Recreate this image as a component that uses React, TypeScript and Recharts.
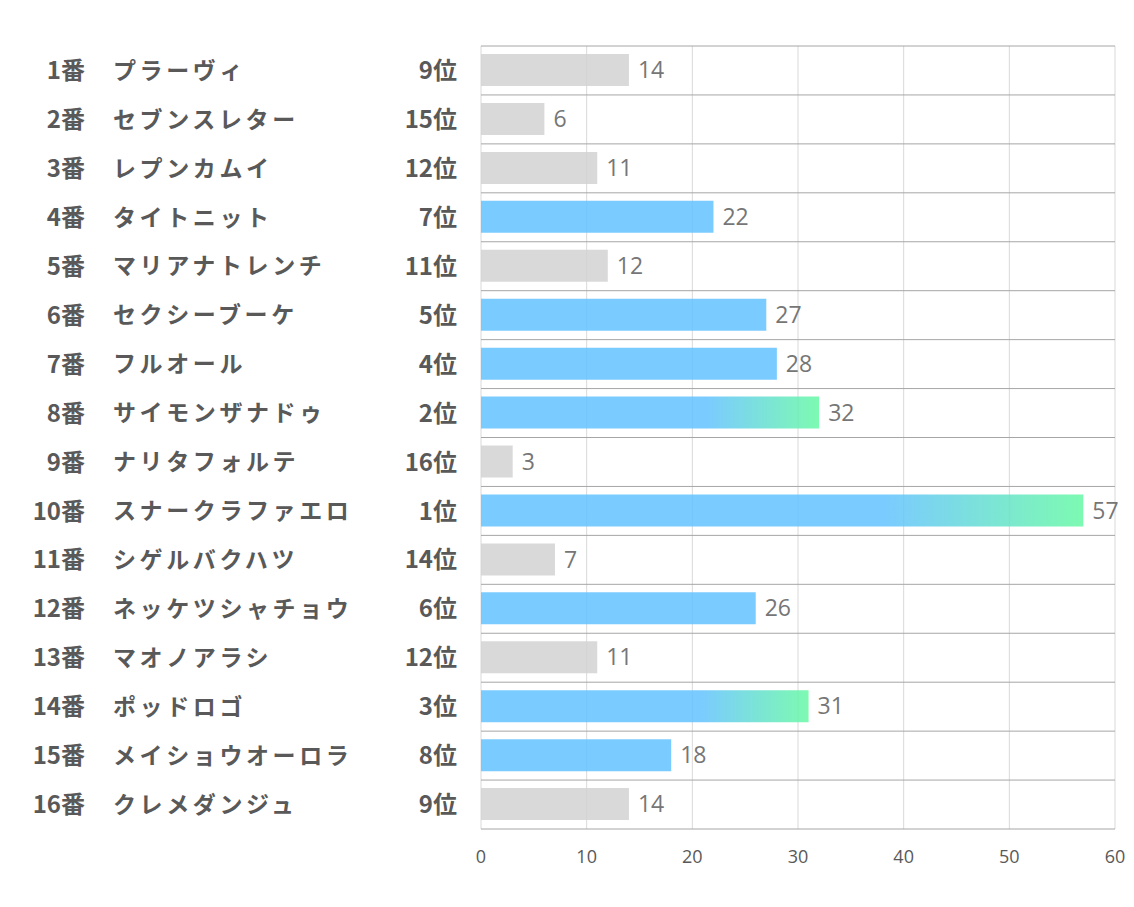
import React from 'react';
import { BarChart, Bar, XAxis, YAxis, CartesianGrid, Cell, LabelList } from 'recharts';

const horseNumbers = ['1番', '2番', '3番', '4番', '5番', '6番', '7番', '8番', '9番', '10番', '11番', '12番', '13番', '14番', '15番', '16番'];
const horseNames = ['プラーヴィ', 'セブンスレター', 'レプンカムイ', 'タイトニット', 'マリアナトレンチ', 'セクシーブーケ', 'フルオール', 'サイモンザナドゥ', 'ナリタフォルテ', 'スナークラファエロ', 'シゲルバクハツ', 'ネッケツシャチョウ', 'マオノアラシ', 'ポッドロゴ', 'メイショウオーロラ', 'クレメダンジュ'];
const rankLabels = ['9位', '15位', '12位', '7位', '11位', '5位', '4位', '2位', '16位', '1位', '14位', '6位', '12位', '3位', '8位', '9位'];
const rankValues = [9, 15, 12, 7, 11, 5, 4, 2, 16, 1, 14, 6, 12, 3, 8, 9];
const scores = [14, 6, 11, 22, 12, 27, 28, 32, 3, 57, 7, 26, 11, 31, 18, 14];
const xTicks = [0, 10, 20, 30, 40, 50, 60];

const data = horseNames.map((name, i) => ({
  name,
  num: horseNumbers[i],
  rank: rankLabels[i],
  rankValue: rankValues[i],
  value: scores[i],
}));

const TEXT_FONT = '"Noto Sans CJK JP", "Noto Sans", sans-serif';

const RowTick = (props: any) => {
  const { y, payload, index } = props;
  const idx = typeof index === 'number' ? index : payload.index;
  const row = data[idx] || data.find((d) => d.name === payload.value);
  if (!row) return null;
  return (
    <g>
      <text x={85} y={y} dy="0.36em" textAnchor="end" fontFamily={TEXT_FONT} fontWeight={700} fontSize={24} fill="#595959">
        {row.num}
      </text>
      <text x={113} y={y} dy="0.36em" textAnchor="start" fontFamily={TEXT_FONT} fontWeight={700} fontSize={23} letterSpacing={3.6} fill="#595959">
        {row.name}
      </text>
      <text x={457} y={y} dy="0.36em" textAnchor="end" fontFamily={TEXT_FONT} fontWeight={700} fontSize={24} fill="#595959">
        {row.rank}
      </text>
    </g>
  );
};

const fillFor = (rank: number) => {
  if (rank <= 3) return 'url(#topGrad)';
  if (rank <= 8) return '#63C2FF';
  return '#D2D2D2';
};

export default function App() {
  return (
    <div style={{ position: 'absolute', left: 0, top: 0, width: 1134, height: 907, background: '#fff' }}>
      <BarChart
        width={1134}
        height={907}
        data={data}
        layout="vertical"
        margin={{ top: 46, right: 19, left: 0, bottom: 38 }}
        barSize={32}
      >
        <defs>
          <linearGradient id="topGrad" x1="0" y1="0" x2="1" y2="0">
            <stop offset="0" stopColor="#63C2FF" />
            <stop offset="0.67" stopColor="#63C2FF" />
            <stop offset="1" stopColor="#66F9A4" />
          </linearGradient>
        </defs>
        <CartesianGrid horizontal={false} vertical={true} stroke="#d9d9d9" strokeWidth={1} />
        <CartesianGrid
          horizontal={true}
          vertical={false}
          stroke="#a6a6a6"
          strokeWidth={1}
          horizontalCoordinatesGenerator={({ offset }: any) =>
            Array.from({ length: data.length + 1 }, (_, i) => offset.top + (i * offset.height) / data.length)
          }
        />
        <XAxis
          type="number"
          domain={[0, 60]}
          ticks={xTicks}
          axisLine={false}
          tickLine={false}
          height={40}
          tickMargin={15}
          tick={{ fill: '#595959', fontSize: 18, fontFamily: '"Open Sans", sans-serif' }}
        />
        <YAxis
          type="category"
          dataKey="name"
          width={481}
          axisLine={false}
          tickLine={false}
          interval={0}
          tick={<RowTick />}
        />
        <Bar dataKey="value" isAnimationActive={false} fillOpacity={0.85}>
          {data.map((d, i) => (
            <Cell key={i} fill={fillFor(d.rankValue)} />
          ))}
          <LabelList
            dataKey="value"
            position="right"
            offset={9}
            fill="#767676"
            fontSize={23}
            fontFamily='"Open Sans", sans-serif'
          />
        </Bar>
      </BarChart>
    </div>
  );
}
